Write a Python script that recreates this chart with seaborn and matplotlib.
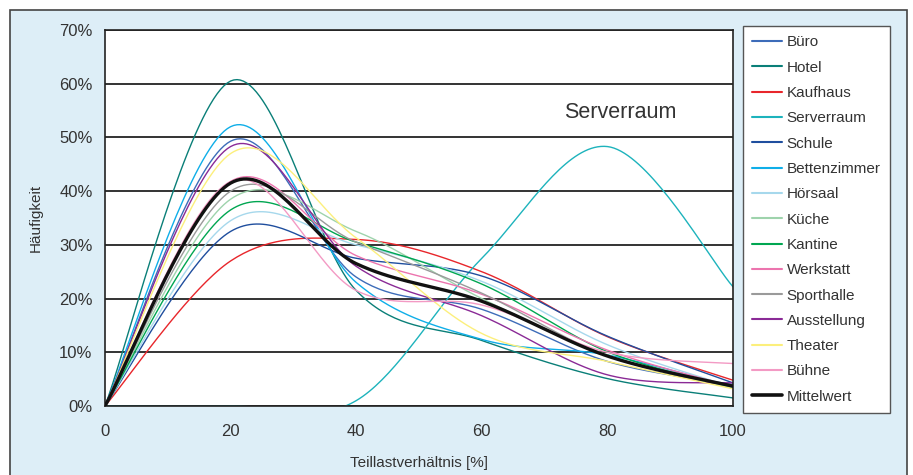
#!/usr/bin/env python3
"""
Teillast-Häufigkeit nach Gebäudenutzung
Smoothed line chart (Excel-style) with legend box on the right
"""

import numpy as np
import pandas as pd
import matplotlib
matplotlib.use("Agg")
import matplotlib.pyplot as plt
import seaborn as sns
from matplotlib.patches import Rectangle
from matplotlib.ticker import FuncFormatter

# Stützstellen (Teillastverhältnis in %)
x_points = [0, 20, 40, 60, 80, 100]

# Häufigkeit in % je Nutzung
buero = [0, 49.3, 24.0, 18.0, 8.3, 4.0]
hotel = [0, 60.5, 21.5, 12.2, 5.1, 1.5]
kaufhaus = [0, 27.0, 31.0, 25.0, 12.9, 4.8]
serverraum = [0, 0, 1.0, 27.5, 48.3, 22.2]
schule = [0, 32.5, 27.5, 24.2, 13.0, 4.3]
bettenzimmer = [0, 52.0, 23.0, 12.4, 9.5, 3.5]
hoersaal = [0, 34.5, 30.0, 23.2, 11.4, 3.5]
kueche = [0, 38.5, 32.5, 20.0, 9.5, 3.3]
kantine = [0, 36.5, 30.5, 22.7, 10.1, 3.5]
werkstatt = [0, 41.8, 28.0, 20.8, 10.4, 3.6]
sporthalle = [0, 40.0, 30.5, 21.0, 9.3, 3.8]
ausstellung = [0, 48.3, 26.0, 16.8, 5.8, 4.3]
theater = [0, 47.0, 31.3, 13.5, 8.3, 3.2]
buehne = [0, 41.8, 21.5, 18.8, 10.0, 7.9]
mittelwert = [0, 41.5, 26.5, 19.5, 9.3, 3.7]

labels = ["Büro", "Hotel", "Kaufhaus", "Serverraum", "Schule", "Bettenzimmer",
          "Hörsaal", "Küche", "Kantine", "Werkstatt", "Sporthalle",
          "Ausstellung", "Theater", "Bühne", "Mittelwert"]
series = [buero, hotel, kaufhaus, serverraum, schule, bettenzimmer,
          hoersaal, kueche, kantine, werkstatt, sporthalle,
          ausstellung, theater, buehne, mittelwert]
colors = ["#3D6CB9", "#0A7F78", "#E8262B", "#1DB3BC", "#1F4E9E", "#0FAEE8",
          "#A6D8EC", "#9ED3AC", "#00A651", "#EC74AE", "#9A9A9A",
          "#8A2A96", "#FCEF7C", "#F39AC4", "#111111"]


def smooth(xs, ys, n=40):
    """Excel-like smoothed line: cubic Bezier through the points."""
    pts = np.column_stack([xs, ys]).astype(float)
    out = []
    for i in range(len(pts) - 1):
        p0 = pts[i - 1] if i > 0 else pts[i]
        p1 = pts[i]
        p2 = pts[i + 1]
        p3 = pts[i + 2] if i + 2 < len(pts) else pts[i + 1]
        b1 = p1 + (p2 - p0) / 6.0
        b2 = p2 - (p3 - p1) / 6.0
        t = np.linspace(0, 1, n)[:, None]
        seg = ((1 - t) ** 3) * p1 + 3 * ((1 - t) ** 2) * t * b1 \
            + 3 * (1 - t) * t ** 2 * b2 + t ** 3 * p2
        out.append(seg if i == 0 else seg[1:])
    return np.vstack(out)


def main():
    sns.set_style("white")
    plt.rcParams["font.family"] = ["Liberation Sans", "DejaVu Sans"]

    fig = plt.figure(figsize=(9.13, 4.75), dpi=100)
    fig.patch.set_facecolor("white")
    # light blue panel with border
    fig.patches.append(Rectangle((10 / 913, -0.05), 897 / 913, 1.05 - 10 / 475,
                                 transform=fig.transFigure, facecolor="#DDEEF7",
                                 edgecolor="#444444", linewidth=1.2, zorder=-5))

    ax = fig.add_axes([105 / 913, 1 - 406 / 475, 628 / 913, 376 / 475])
    ax.set_facecolor("white")

    rows = []
    for name, vals in zip(labels, series):
        curve = smooth(x_points, vals)
        rows.append(pd.DataFrame({"x": curve[:, 0], "y": curve[:, 1], "Typ": name}))
    df = pd.concat(rows, ignore_index=True)

    for name, col in zip(labels, colors):
        sub = df[df["Typ"] == name]
        lw = 2.4 if name == "Mittelwert" else 1.0
        sns.lineplot(data=sub, x="x", y="y", ax=ax, color=col, linewidth=lw,
                     label=name, sort=False, estimator=None,
                     zorder=3 if name == "Mittelwert" else 2)

    ax.set_xlim(0, 100)
    ax.set_ylim(0, 70)
    ax.set_xticks(range(0, 101, 20))
    ax.set_yticks(range(0, 71, 10))
    ax.yaxis.set_major_formatter(FuncFormatter(lambda v, p: f"{v:.0f}%"))
    ax.grid(axis="y", color="#111111", linewidth=1.2)
    ax.grid(axis="x", visible=False)
    for s in ax.spines.values():
        s.set_color("#222222")
        s.set_linewidth(1.2)
    ax.tick_params(axis="both", direction="out", length=5, width=1.0,
                   color="#222222", labelsize=12, labelcolor="#333333", pad=4)
    ax.tick_params(axis="x", pad=8)

    ax.set_xlabel("Teillastverhältnis [%]", fontsize=11, color="#333333", labelpad=12)
    ax.set_ylabel("Häufigkeit", fontsize=11, color="#333333", labelpad=12)

    ax.text(82, 54.7, "Serverraum", fontsize=15.5, color="#333333",
            ha="center", va="center")

    leg = ax.legend(loc="upper left", bbox_to_anchor=(743 / 913, 1 - 26 / 475),
                    bbox_transform=fig.transFigure, borderaxespad=0,
                    fontsize=11, frameon=True, fancybox=False, framealpha=1,
                    facecolor="white",
                    handlelength=1.9, handletextpad=0.35, labelspacing=0.74,
                    borderpad=0.62)
    leg.get_frame().set_edgecolor("#555555")
    leg.get_frame().set_linewidth(1.0)
    for line in leg.get_lines():
        line.set_linewidth(1.5 if line.get_label() != "Mittelwert" else 2.6)
    for t in leg.get_texts():
        t.set_color("#333333")

    fig.savefig("out.png", dpi=100)
    plt.close(fig)


if __name__ == "__main__":
    main()
